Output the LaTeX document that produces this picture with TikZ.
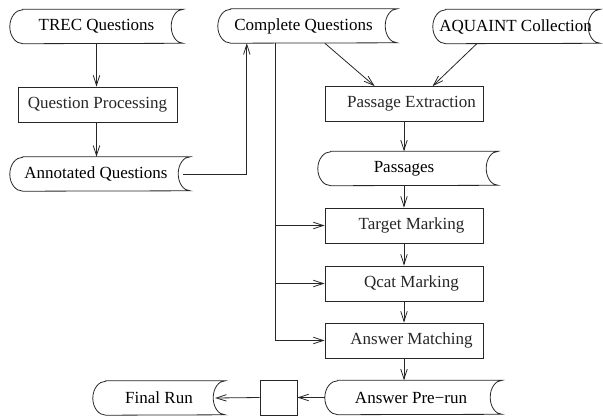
\documentclass[tikz,border=0pt]{standalone}
\usepackage{fontspec}
\setmainfont{Liberation Serif}
\usetikzlibrary{arrows.meta,calc}
\tikzset{
  line/.style={line width=0.8pt, black!85},
  arr/.style={line, -{Straight Barb[length=10pt,width=6.5pt,line width=0.8pt]}},
  store/.style={rectangle, draw=none, inner sep=0pt, minimum height=34pt, font=\fontsize{17}{20}\selectfont},
  box/.style={rectangle, line, draw, inner sep=0pt, minimum height=35pt, minimum width=158pt, font=\fontsize{17}{20}\selectfont},
}
\newcommand\storeoutline[1]{%
  \draw[line] ([xshift=13pt]#1.north west) -- (#1.north east)
    arc[start angle=90, end angle=270, x radius=12pt, y radius=17pt]
    -- ([xshift=13pt]#1.south west)
    arc[start angle=270, end angle=90, x radius=13pt, y radius=17pt] -- cycle;}
\begin{document}
\begin{tikzpicture}[x=1pt, y=-1pt]
\useasboundingbox (0,0) rectangle (603,418);
% storage shapes
\node[store, minimum width=173pt] (trec) at (96.5,26.5) {TREC Questions};
\node[store, minimum width=179pt] (cq) at (307.5,26) {Complete Questions\kern8pt};
\node[store, minimum width=167pt] (aq) at (516.5,26.5) {AQUAINT Collection\kern2pt};
\node[store, minimum width=180pt] (anq) at (100,174) {Annotated Questions\kern8pt};
\node[store, minimum width=180pt] (pas) at (408,168.5) {Passages\kern8pt};
\node[store, minimum width=177pt] (apr) at (413.5,397.5) {Answer Pre−run\kern5pt};
\node[store, minimum width=132pt] (fr) at (159,398) {Final Run};
\foreach \n in {trec,cq,aq,anq,pas,apr,fr} {\storeoutline{\n}}
% process boxes
\node[box, minimum width=159pt] (qp) at (97.5,104.5) {Question Processing};
\node[box] (pe) at (404,104) {\kern15pt Passage Extraction};
\node[box] (tm) at (404,225.5) {\kern15pt Target Marking};
\node[box] (qm) at (404,283.5) {\kern15pt Qcat Marking};
\node[box] (am) at (404,340.5) {\kern15pt Answer Matching};
\node[box, minimum width=37pt] (sq) at (278.5,397.5) {};
% connectors
\draw[arr] (trec.south) -- (trec.south |- qp.north);
\draw[arr] (trec.south |- qp.south) -- (trec.south |- anq.north);
\draw[arr] ([xshift=-7pt]anq.east) -| ([xshift=29pt]cq.south west);
\draw[arr] ([xshift=107pt]cq.south west) -- ([xshift=50pt]pe.north west);
\draw[arr] ([xshift=44pt]aq.south west) -- ([xshift=108pt]pe.north west);
\draw[arr] (pe.south) -- (pe.south |- pas.north);
\draw[arr] (pe.south |- pas.south) -- (tm.north);
\draw[arr] (tm.south) -- (qm.north);
\draw[arr] (qm.south) -- (am.north);
\draw[arr] (am.south) -- (am.south |- apr.north);
\coordinate (cqb) at ([xshift=58pt]cq.south west);
\draw[arr] (cqb) |- (am.west);
\draw[arr] (cqb |- tm.west) -- (tm.west);
\draw[arr] (cqb |- qm.west) -- (qm.west);
\draw[arr] (apr.west) -- (sq.east);
\draw[arr] (sq.west) -- ([xshift=-10pt]fr.east);
\end{tikzpicture}
\end{document}
